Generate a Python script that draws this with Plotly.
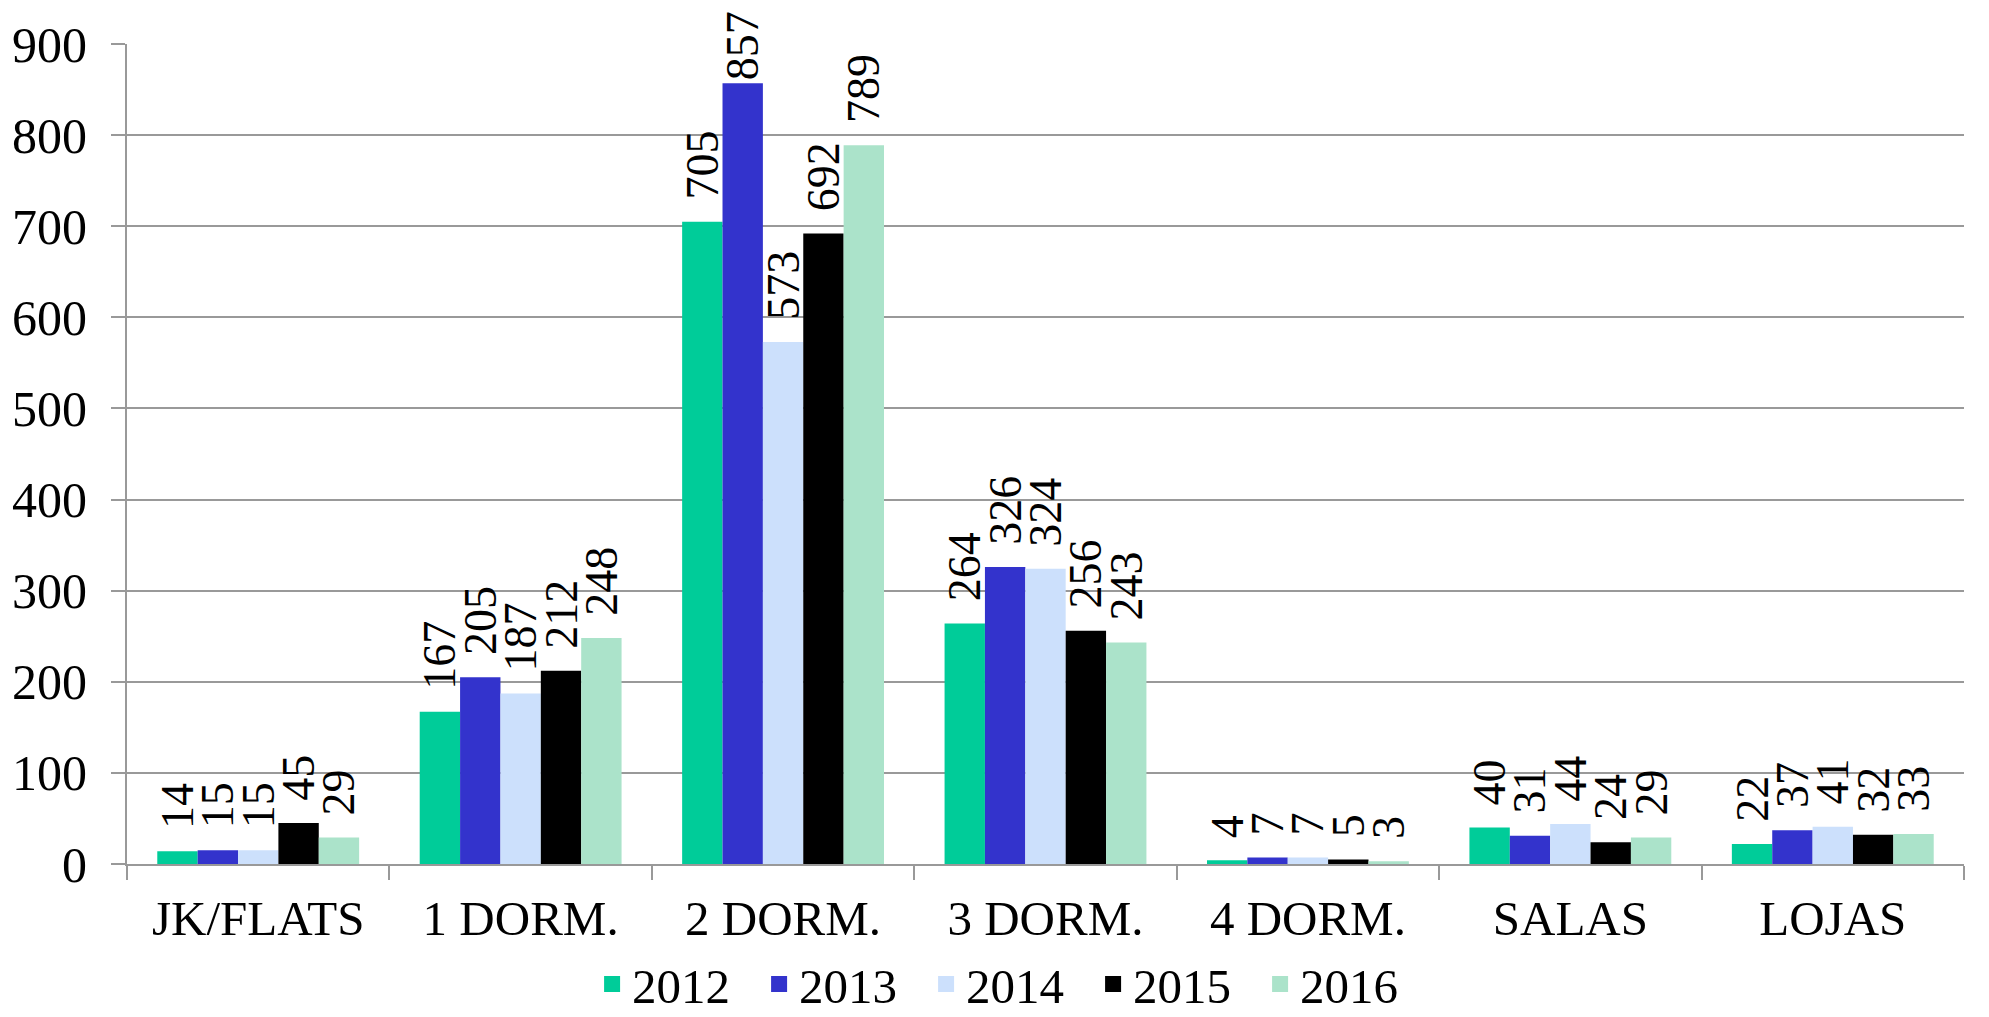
import plotly.graph_objects as go

categories = ["JK/FLATS", "1 DORM.", "2 DORM.", "3 DORM.", "4 DORM.", "SALAS", "LOJAS"]
years = ["2012", "2013", "2014", "2015", "2016"]
v2012 = [14, 167, 705, 264, 4, 40, 22]
v2013 = [15, 205, 857, 326, 7, 31, 37]
v2014 = [15, 187, 573, 324, 7, 44, 41]
v2015 = [45, 212, 692, 256, 5, 24, 32]
v2016 = [29, 248, 789, 243, 3, 29, 33]
series = [v2012, v2013, v2014, v2015, v2016]
colors = ["#00CC99", "#3333CC", "#CCE0FC", "#000000", "#ABE3CA"]
y_ticks = [0, 100, 200, 300, 400, 500, 600, 700, 800, 900]
Y_MAX = 900

FONT = "Liberation Serif"
label_font = dict(family=FONT, size=46, color="black")


def label(v):
    # labels sit a little off the bar end, except where they would leave the chart area
    pad = "\u00a0\u2006" if v < 0.9 * Y_MAX else ""
    return pad + str(v)


fig = go.Figure()
for name, vals, col in zip(years, series, colors):
    fig.add_trace(go.Bar(
        name=name, x=categories, y=vals,
        marker=dict(color=col, line=dict(width=0)),
        text=[label(v) for v in vals],
        textposition="outside",
        textangle=-90,
        constraintext="none",
        cliponaxis=False,
        textfont=label_font,
        outsidetextfont=label_font,
        showlegend=False,
    ))
# legend entries (square swatches)
for name, col in zip(years, colors):
    fig.add_trace(go.Scatter(
        name=name, x=[None], y=[None], mode="markers",
        marker=dict(symbol="square", size=24, color=col),
        showlegend=True,
    ))

# page has an 8px body margin: figure is sized/offset to compensate
fig.update_layout(
    width=1981, height=1009,
    barmode="group",
    bargap=0.2308, bargroupgap=0,
    plot_bgcolor="white", paper_bgcolor="white",
    margin=dict(l=119, r=25, t=36, b=153, autoexpand=False),
    font=dict(family=FONT, size=49, color="black"),
    showlegend=True,
    legend=dict(orientation="h", xref="container", yref="container",
                x=0.5056, xanchor="center", y=0.0325, yanchor="middle",
                font=dict(family=FONT, size=49, color="black"), traceorder="normal",
                itemwidth=30, entrywidth=122, entrywidthmode="pixels",
                bgcolor="rgba(0,0,0,0)"),
    xaxis=dict(
        type="category", automargin=False,
        showline=True, linecolor="#999999", linewidth=2,
        ticks="outside", tickson="boundaries", ticklen=14, tickcolor="#999999", tickwidth=2,
        showgrid=False,
        tickfont=dict(family=FONT, size=49, color="black"),
        ticklabelstandoff=10,
    ),
    yaxis=dict(
        range=[0, Y_MAX], automargin=False,
        tickvals=y_ticks,
        showline=True, linecolor="#999999", linewidth=2,
        showgrid=True, gridcolor="#999999", gridwidth=2,
        ticks="outside", ticklen=14, tickcolor="#999999", tickwidth=2,
        zeroline=False,
        tickfont=dict(family=FONT, size=50, color="black"),
        ticklabelstandoff=14,
    ),
)

fig.write_html("out.html")
